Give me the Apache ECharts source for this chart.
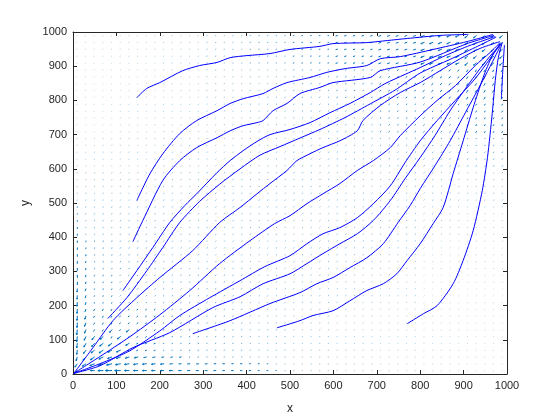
<!DOCTYPE html>
<html>
<head>
<meta charset="utf-8">
<script src="https://cdn.jsdelivr.net/npm/echarts@6/dist/echarts.min.js"></script>
<style>
  html, body { margin: 0; padding: 0; background: #fff; }
  #chart { width: 560px; height: 420px; }
</style>
</head>
<body>
<div id="chart"></div>
<script>
// quiver grid (same positions on both axes)
const gridVals = [10,30,50,70,90,110,130,150,170,190,210,230,250,270,290,310,330,350,370,390,
  410,430,450,470,490,510,530,550,570,590,610,630,650,670,690,710,730,750,770,790,
  810,830,850,870,890,910,930,950,970,990];

// rough velocity per 100x100 block, rows from bottom (y 0-100) to top
const blockU = [
  [-10,-6,-4,-3,-2,-1.5,-1,-0.6,-0.4,-0.3],
  [-4,-5,-4,-3,-2,-1.5,-1,-0.6,-0.4,-0.3],
  [-2,-3,-3,-3,-2,-2,-1.5,-1,-0.5,-0.3],
  [-1,-2,-2,-2,-2,-2,-2,-1.5,-0.8,-0.4],
  [-1,-1.5,-2,-2,-2,-2,-2,-2,-1.5,-0.6],
  [-0.5,-1,-1.5,-2,-2,-2,-2,-2,-2,-1],
  [-0.3,-0.8,-1,-1.5,-2,-2,-2.5,-3,-3,-2],
  [-0.3,-0.5,-1,-1.5,-2,-2.5,-3,-4,-4,-3],
  [-0.3,-0.5,-1,-1.5,-2,-3,-4,-5,-6,-5],
  [-0.3,-0.5,-1,-2,-3,-5,-7,-9,-12,-10]
];
const blockV = [
  [-10,-3,-2,-1,-0.5,-0.4,-0.3,-0.2,-0.2,-0.2],
  [-8,-5,-3,-2,-1,-0.8,-0.6,-0.4,-0.3,-0.3],
  [-6,-4,-3,-2.5,-2,-1.5,-1,-0.8,-0.6,-0.5],
  [-5,-4,-3,-3,-2.5,-2,-1.5,-1.2,-1,-0.8],
  [-3,-3,-3,-3,-3,-2.5,-2,-2,-1.5,-1.2],
  [-2,-2,-2.5,-3,-3,-3,-2.5,-2.5,-2.5,-2],
  [-1,-1.5,-2,-2,-2.5,-3,-3,-3.5,-4,-4],
  [-0.5,-1,-1.5,-1.5,-2,-2.5,-3,-4,-5,-7],
  [-0.3,-0.5,-1,-1,-1.5,-2,-3,-4.5,-7,-10],
  [-0.2,-0.3,-0.5,-1,-1,-1.5,-2.5,-4,-6,-10]
];

// larger arrows near the origin [x, y, u, v]
const bigArrows = [
  [30,10,-10,0],[50,10,-14,0],[70,10,-18,0],[90,10,-22,0],[110,10,-20,0],[130,10,-16,0],
  [150,10,-15,0],[170,10,-14,0],[190,10,-13,0],[210,10,-12,0],[230,10,-12,0],[250,10,-11,0],
  [270,10,-10,0],[290,10,-10,0],[310,10,-9,0],[330,10,-9,0],[350,10,-8,0],[370,10,-8,0],
  [390,10,-7,0],[410,10,-7,0],[430,10,-6,0],[450,10,-6,0],[470,10,-5,0],
  [10,30,-8,-14],[30,30,-12,-10],[50,30,-16,-8],[70,30,-18,-6],[90,30,-18,-5],[110,30,-17,-4],
  [130,30,-16,-3],[150,30,-15,-3],[170,30,-14,-2],[190,30,-13,-2],[210,30,-12,-2],[230,30,-11,-1],
  [250,30,-10,-1],[270,30,-10,-1],[290,30,-9,-1],[310,30,-9,-1],[330,30,-8,0],[350,30,-8,0],
  [370,30,-7,0],[390,30,-7,0],[410,30,-6,0],[430,30,-6,0],[450,30,-5,0],
  [10,50,-4,-16],[30,50,-10,-14],[50,50,-14,-12],[70,50,-15,-9],[90,50,-15,-7],[110,50,-14,-6],
  [130,50,-13,-5],[150,50,-12,-4],[170,50,-11,-3],[190,50,-10,-3],[210,50,-9,-2],[230,50,-8,-2],
  [250,50,-8,-2],
  [10,70,-2,-18],[10,90,-2,-20],[10,110,-2,-22],[10,130,-2,-22],[10,150,-1,-20],[10,170,-1,-19],
  [10,190,-1,-18],[10,210,-1,-17],[10,230,-1,-16],[10,250,-1,-15],[10,270,0,-14],[10,290,0,-13],
  [10,310,0,-12],[10,330,0,-11],[10,350,0,-10],[10,370,0,-10],[10,390,0,-9],[10,410,0,-8],
  [10,430,0,-8],[10,450,0,-7],[10,470,0,-6],[10,490,0,-6],
  [30,70,-8,-14],[30,90,-7,-16],[30,110,-6,-16],[30,130,-5,-15],[30,150,-5,-15],[30,170,-4,-14],
  [30,190,-4,-13],[30,210,-3,-12],[30,230,-3,-12],[30,250,-3,-11],[30,270,-2,-10],[30,290,-2,-10],
  [30,310,-2,-9],[30,330,-2,-8],[30,350,-1,-8],[30,370,-1,-7],[30,390,-1,-7],
  [50,70,-12,-12],[70,70,-14,-12],[90,70,-14,-9],[110,70,-14,-8],[50,90,-10,-14],[70,90,-12,-12],
  [90,90,-12,-11],[130,90,-12,-9],[50,110,-9,-14],[70,110,-10,-12],[110,110,-11,-11],
  [90,130,-8,-12],[130,130,-10,-10]
];

// streamlines [x, y]
const lineA = [[147,808],[170,835],[200,852],[253,887],[292,902],[332,911],[362,925],[401,931],[454,937],
  [500,949],[569,958],[599,966],[677,969],[724,975],[770,981],[846,990],[911,993]];
const lineB = [[147,507],[177,585],[207,644],[246,703],[285,741],[332,770],[362,791],[392,805],[438,820],
  [461,835],[493,852],[546,867],[585,882],[627,893],[677,902],[708,922],[754,928],[830,949],[908,972],[968,993]];
const lineC = [[138,387],[161,449],[207,566],[246,624],[285,662],[332,691],[362,711],[392,726],[424,735],
  [438,741],[461,770],[493,791],[523,820],[569,838],[599,852],[685,867],[708,887],[800,912],[908,966],[970,990]];
const lineD = [[115,244],[147,302],[184,370],[223,443],[258,493],[285,527],[332,589],[362,624],[392,653],
  [424,680],[454,700],[500,715],[546,735],[592,764],[638,791],[685,823],[719,849],[765,876],[800,896],
  [858,931],[915,961],[973,987]];
const lineE = [[80,162],[124,223],[170,302],[207,370],[246,443],[292,505],[338,555],[385,600],[431,640],
  [477,665],[523,690],[569,715],[627,750],[685,790],[742,830],[800,880],[869,920],[927,955],[975,985]];
const lineF = [[2,2],[46,77],[92,156],[147,223],[200,282],[276,361],[338,443],[385,487],[424,527],[454,557],
  [493,595],[516,624],[546,644],[576,662],[615,682],[655,711],[668,741],[708,785],[754,823],[800,852],
  [846,887],[892,922],[938,952],[984,972]];
const lineG = [[2,2],[62,51],[131,109],[200,173],[269,244],[338,323],[408,390],[465,440],[500,463],[539,498],
  [576,527],[615,557],[655,595],[692,624],[731,662],[754,697],[800,755],[839,800],[881,843],[927,902],
  [961,940],[984,969]];
const lineG2 = [[2,2],[62,30],[131,68],[200,126],[246,171],[315,223],[385,273],[442,314],[500,346],[539,381],
  [576,410],[615,428],[655,457],[692,498],[731,550],[765,618],[800,682],[839,741],[881,800],[927,864],
  [961,922],[984,963]];
const lineH = [[2,2],[62,24],[138,77],[223,121],[322,194],[385,226],[438,264],[500,293],[539,323],[576,352],
  [615,381],[655,410],[692,449],[731,507],[765,571],[800,633],[834,697],[869,770],[904,834],[938,893],
  [968,940],[989,966]];
const lineJ = [[276,118],[362,156],[454,206],[523,238],[562,264],[599,282],[638,311],[677,340],[715,381],
  [749,443],[777,493],[800,542],[834,609],[869,682],[904,764],[934,834],[961,899],[984,957]];
const lineK = [[470,135],[523,156],[553,171],[599,185],[638,214],[677,244],[715,264],[746,293],[770,332],
  [800,381],[830,440],[853,487],[876,586],[899,682],[922,779],[945,867],[966,931],[984,966]];
const lineM = [[770,147],[807,176],[839,200],[876,264],[899,332],[922,419],[943,536],[955,633],[966,762],
  [973,858],[980,925],[989,969]];
const lineN = [[987,805],[990,880],[994,962]];

const streamlines = [lineA, lineB, lineC, lineD, lineE, lineF, lineG, lineG2, lineH, lineJ, lineK, lineM, lineN];

// build quiver table from the grid, block velocities and the larger arrows
const bigKeys = new Set(bigArrows.map(a => a[0] + ',' + a[1]));
const quiverData = [];
gridVals.forEach(y => {
  gridVals.forEach(x => {
    if (bigKeys.has(x + ',' + y)) return;
    const r = Math.min(9, Math.floor(y / 100));
    const c = Math.min(9, Math.floor(x / 100));
    quiverData.push([x, y, blockU[r][c], blockV[r][c]]);
  });
});
bigArrows.forEach(a => quiverData.push(a));

const font = 'Liberation Sans, Arial, Helvetica, sans-serif';
const quiverColor = '#0072BD';
const arrowScale = 0.7;

function renderArrow(params, api) {
  const x = api.value(0), y = api.value(1);
  const u = api.value(2) * arrowScale, v = api.value(3) * arrowScale;
  const p0 = api.coord([x, y]);
  const p1 = api.coord([x + u, y + v]);
  let dx = p1[0] - p0[0], dy = p1[1] - p0[1];
  let len = Math.hypot(dx, dy);
  const alpha = Math.max(0.2, Math.min(1, 0.2 + 0.4 * len));
  if (len < 1.3) {
    // very short arrows still show as a dot
    const k = len > 0 ? 1.3 / len : 0;
    dx = len > 0 ? dx * k : 1.3;
    dy = len > 0 ? dy * k : 0;
    len = 1.3;
  }
  const ex = p0[0] + dx, ey = p0[1] + dy;
  const style = { stroke: quiverColor, lineWidth: 1, opacity: alpha };
  const children = [{ type: 'line', shape: { x1: p0[0], y1: p0[1], x2: ex, y2: ey }, style: style }];
  if (len > 3.5) {
    const ang = Math.atan2(dy, dx);
    const h = Math.min(0.35 * len, 3);
    [0.45, -0.45].forEach(s => {
      children.push({
        type: 'line',
        shape: { x1: ex, y1: ey, x2: ex - h * Math.cos(ang + s), y2: ey - h * Math.sin(ang + s) },
        style: style
      });
    });
  }
  return { type: 'group', children: children };
}

const axisBase = {
  type: 'value', min: 0, max: 1000, interval: 100,
  axisLine: { show: true, onZero: false, lineStyle: { color: '#262626', width: 1 } },
  axisTick: { show: true, inside: true, length: 4, lineStyle: { color: '#262626' } },
  splitLine: { show: false }
};
const labelStyle = { fontSize: 11, color: '#262626', fontFamily: font, formatter: v => String(v) };

const chart = echarts.init(document.getElementById('chart'), null, { renderer: 'canvas' });
chart.setOption({
  animation: false,
  backgroundColor: '#ffffff',
  grid: { left: 73, top: 32, right: 53, bottom: 46, containLabel: false },
  xAxis: [
    Object.assign({}, axisBase, {
      position: 'bottom', name: 'x', nameLocation: 'middle', nameGap: 29,
      nameTextStyle: { fontSize: 12, color: '#262626', fontFamily: font },
      axisLabel: Object.assign({ margin: 6 }, labelStyle)
    }),
    Object.assign({}, axisBase, { position: 'top', axisLabel: { show: false } })
  ],
  yAxis: [
    Object.assign({}, axisBase, {
      position: 'left', name: 'y', nameLocation: 'middle', nameGap: 28,
      nameTextStyle: { fontSize: 12, color: '#262626', fontFamily: font },
      axisLabel: Object.assign({ margin: 6 }, labelStyle)
    }),
    Object.assign({}, axisBase, { position: 'right', axisLabel: { show: false } })
  ],
  series: [
    {
      type: 'custom',
      renderItem: renderArrow,
      data: quiverData,
      encode: { x: 0, y: 1 },
      clip: true,
      silent: true,
      z: 2
    }
  ].concat(streamlines.map(line => ({
    type: 'line',
    data: line,
    symbol: 'none',
    showSymbol: false,
    smooth: 0.25,
    clip: true,
    silent: true,
    lineStyle: { color: '#0000ff', width: 1 },
    z: 3
  })))
});
</script>
</body>
</html>
